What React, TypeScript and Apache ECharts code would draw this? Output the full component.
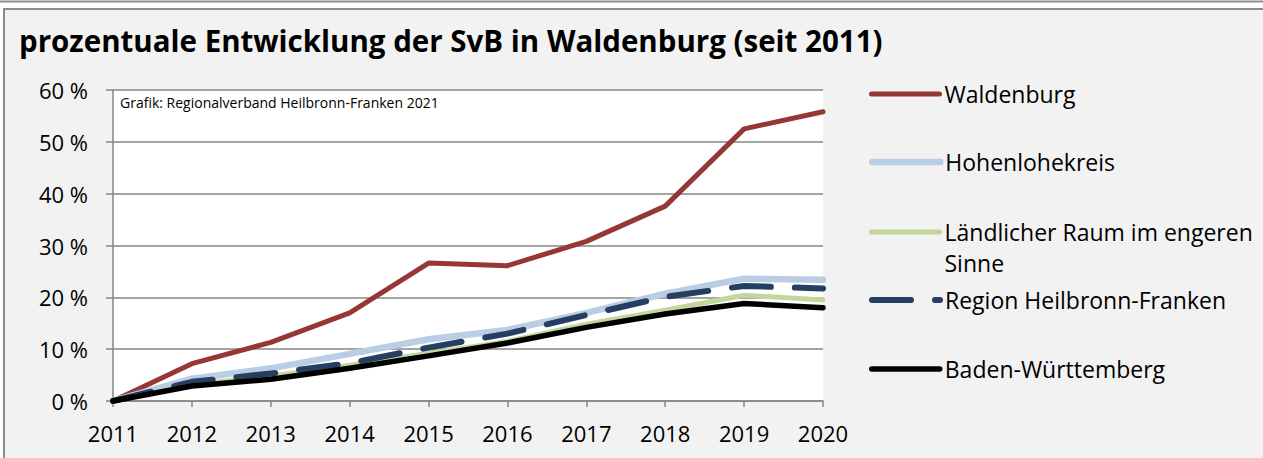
import React, { useEffect, useRef } from "react";
import * as echarts from "echarts";

const years = ["2011", "2012", "2013", "2014", "2015", "2016", "2017", "2018", "2019", "2020"];
const waldenburg = [0, 7.2, 11.3, 17.0, 26.6, 26.1, 30.8, 37.6, 52.5, 55.8];
const hohenlohekreis = [0, 4.3, 6.3, 9.1, 11.9, 13.7, 17.0, 20.7, 23.6, 23.4];
const laendlich = [0, 3.2, 4.8, 6.9, 9.2, 11.5, 14.8, 17.5, 20.4, 19.5];
const regionHNF = [0, 3.7, 5.3, 7.3, 10.3, 13.0, 16.6, 20.1, 22.2, 21.7];
const badenWuerttemberg = [0, 2.9, 4.2, 6.3, 8.7, 11.2, 14.2, 16.8, 18.8, 18.0];

const names = [
  "Waldenburg",
  "Hohenlohekreis",
  "Ländlicher Raum im engeren Sinne",
  "Region Heilbronn-Franken",
  "Baden-Württemberg",
];
const colors = ["#953735", "#b9cde5", "#c3d69b", "#243f60", "#000000"];
const widths = [5, 6.5, 5, 6, 5.5];
const dashes: any[] = ["solid", "solid", "solid", [39, 24], "solid"];

const titleText = "prozentuale Entwicklung der SvB in Waldenburg (seit 2011)";
const sourceText = "Grafik: Regionalverband Heilbronn-Franken 2021";

const FONT = "'Open Sans', sans-serif";

export default function App() {
  const ref = useRef<HTMLDivElement>(null);

  useEffect(() => {
    if (!ref.current) return;
    const chart = echarts.init(ref.current, null, { renderer: "svg" });

    const legendCenters = [94, 162, 232, 300, 369];
    const LH = 31;
    const legends = names.map((n, i) => {
      const multi = i === 2;
      return {
        show: true,
        data: [n],
        orient: "vertical",
        left: 869,
        top: legendCenters[i] - (multi ? 1.5 * LH : LH / 2),
        padding: 0,
        itemWidth: 68,
        itemHeight: LH,
        itemGap: 0,
        selectedMode: false,
        itemStyle: { opacity: 0 },
        lineStyle: {
          color: colors[i],
          width: widths[i],
          type: dashes[i],
          cap: "round",
        },
        formatter: multi ? () => "\nLändlicher Raum im engeren\nSinne" : undefined,
        textStyle: { fontFamily: FONT, fontSize: 23, color: "#000", lineHeight: LH },
      };
    });

    const series = names.map((n, i) => ({
      name: n,
      type: "line",
      data: [waldenburg, hohenlohekreis, laendlich, regionHNF, badenWuerttemberg][i],
      symbol: "none",
      showSymbol: false,
      lineStyle: { color: colors[i], width: widths[i], type: dashes[i], cap: "round", join: "round" },
      itemStyle: { color: colors[i] },
    }));

    chart.setOption({
      animation: false,
      backgroundColor: "#ffffff",
      graphic: [
        {
          type: "line",
          shape: { x1: 0, y1: 1.5, x2: 1263, y2: 1.5 },
          style: { stroke: "#8c8c8c", lineWidth: 2 },
          z: -10,
        },
        {
          type: "rect",
          shape: { x: 4, y: 9, width: 1270, height: 460 },
          style: { fill: "#f2f2f2", stroke: "#8c8c8c", lineWidth: 2 },
          z: -10,
        },
        {
          type: "text",
          left: 19,
          top: 25,
          style: {
            text: titleText,
            font: `bold 29.5px ${FONT}`,
            fill: "#000",
          },
        },
        {
          type: "text",
          left: 120,
          top: 95,
          z: 10,
          style: {
            text: sourceText,
            font: `14px ${FONT}`,
            fill: "#000",
          },
        },
      ],
      legend: legends,
      grid: {
        left: 113,
        top: 90,
        right: 440,
        bottom: 57,
        show: true,
        backgroundColor: "#ffffff",
        borderWidth: 0,
      },
      xAxis: {
        type: "category",
        data: years,
        boundaryGap: false,
        axisLine: { show: true, lineStyle: { color: "#868686", width: 1.5 } },
        axisTick: { show: true, length: 6, lineStyle: { color: "#868686", width: 1.5 } },
        axisLabel: { fontFamily: FONT, fontSize: 22, color: "#000", margin: 21 },
        splitLine: { show: false },
      },
      yAxis: {
        type: "value",
        min: 0,
        max: 60,
        interval: 10,
        axisLine: { show: true, lineStyle: { color: "#868686", width: 1.5 } },
        axisTick: { show: true, length: 7, lineStyle: { color: "#868686", width: 1.5 } },
        axisLabel: {
          fontFamily: FONT,
          fontSize: 22,
          color: "#000",
          margin: 25,
          formatter: "{value} %",
        },
        splitLine: { show: true, lineStyle: { color: "#868686", width: 1.5 } },
      },
      series,
    });

    return () => chart.dispose();
  }, []);

  return (
    <div
      ref={ref}
      style={{ position: "fixed", left: 0, top: 0, width: 1263, height: 458 }}
    />
  );
}
